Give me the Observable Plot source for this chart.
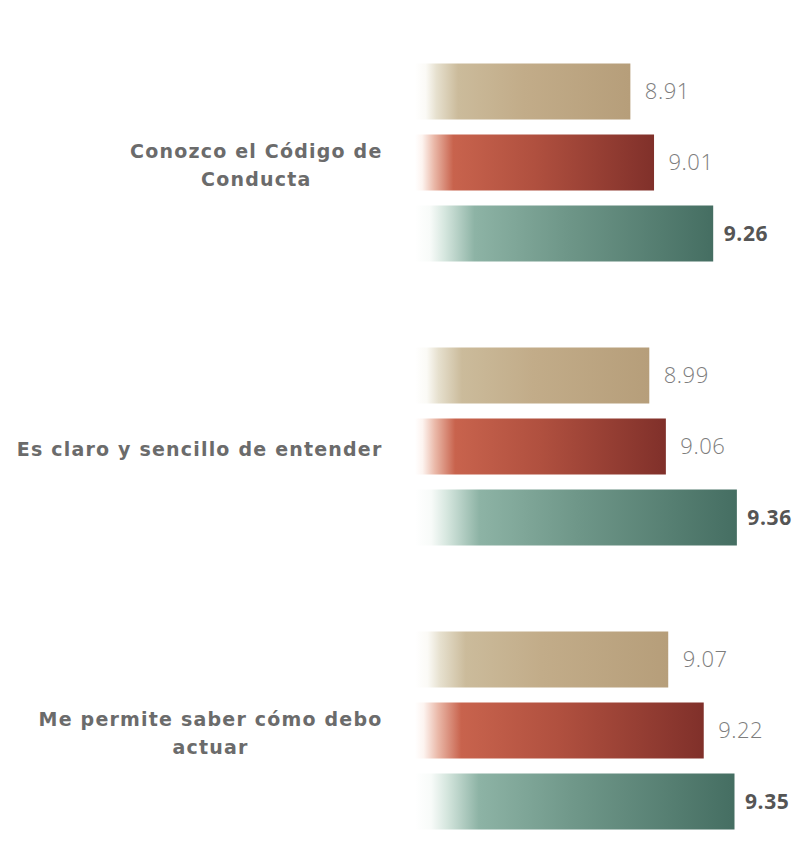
<!DOCTYPE html>
<html><head><meta charset="utf-8">
<script src="https://cdn.jsdelivr.net/npm/d3@7"></script>
<script src="https://cdn.jsdelivr.net/npm/@observablehq/plot@0.6"></script>
<style>
body{margin:0;background:#fff}
.glabel text{letter-spacing:1.2px}
.vlight text{letter-spacing:0.5px}
.vbold text{letter-spacing:0.6px}
</style>
</head><body><div id="chart"></div>
<script>
const groups = ["Conozco el Código de\nConducta", "Es claro y sencillo de entender", "Me permite saber cómo debo\nactuar"];
const series = ["Serie 1", "Serie 2", "Serie 3"];
const serie1Values = [8.91, 8.99, 9.07];
const serie2Values = [9.01, 9.06, 9.22];
const serie3Values = [9.26, 9.36, 9.35];
const xMin = 8;

const seriesValues = [serie1Values, serie2Values, serie3Values];
const data = groups.flatMap((g, i) => series.map((s, j) => ({group: g, series: s, value: seriesValues[j][i]})));
const lastSeries = series[series.length - 1];

const font = "'DejaVu Sans', sans-serif";
const numFont = "'Open Sans', sans-serif";

const svg = Plot.plot({
  width: 795, height: 861,
  marginLeft: 415, marginRight: 25, marginTop: 55.5, marginBottom: 24.5,
  style: {background: "#fff"},
  x: {domain: [8, 9.5], axis: null},
  fy: {domain: groups, axis: null, paddingInner: 0.25, paddingOuter: 0},
  y: {domain: series, axis: null, paddingInner: 0.21, paddingOuter: 0.105},
  color: {domain: series, range: ["url(#gTan)", "url(#gRed)", "url(#gTeal)"]},
  marks: [
    Plot.barX(data, {x1: xMin, x2: "value", y: "series", fy: "group", fill: "series"}),
    Plot.text(data.filter(d => d.series !== lastSeries), {
      x: "value", y: "series", fy: "group", text: d => d.value.toFixed(2),
      dx: 14, textAnchor: "start", fontSize: 22, fontWeight: 300, fill: "#7d7d7d", fontFamily: numFont,
      className: "vlight"
    }),
    Plot.text(data.filter(d => d.series === lastSeries), {
      x: "value", y: "series", fy: "group", text: d => d.value.toFixed(2),
      dx: 10, textAnchor: "start", fontSize: 21, fontWeight: 700, fill: "#555", fontFamily: numFont,
      className: "vbold"
    }),
    Plot.text(groups, {
      fy: d => d, text: d => d, frameAnchor: "left", dx: -33, textAnchor: "end",
      lineAnchor: "middle", lineHeight: 1.47, fontSize: 19, fontWeight: 700, fill: "#6b6b6b",
      fontFamily: font, className: "glabel"
    })
  ]
});

const defs = d3.select(svg).insert("defs", ":first-child");
const grads = [
  ["gTan", [[0, "#ffffff"], [0.05, "#fbfaf6"], [0.1, "#e6e0ce"], [0.2, "#cbbb9b"], [0.5, "#c2ac89"], [1, "#b69e7a"]]],
  ["gRed", [[0, "#ffffff"], [0.03, "#fdf4f0"], [0.08, "#eab8a8"], [0.16, "#c8634d"], [0.5, "#b0503f"], [1, "#80302a"]]],
  ["gTeal", [[0, "#ffffff"], [0.05, "#f8fbf9"], [0.1, "#d5e6de"], [0.2, "#8db3a5"], [0.5, "#6f9789"], [1, "#456e62"]]]
];
for (const [id, stops] of grads) {
  const g = defs.append("linearGradient").attr("id", id).attr("x1", 0).attr("x2", 1).attr("y1", 0).attr("y2", 0);
  for (const [o, c] of stops) g.append("stop").attr("offset", o).attr("stop-color", c);
}

document.getElementById("chart").appendChild(svg);

// center multi-line group labels relative to each other (right edge of longest line kept)
svg.querySelectorAll(".glabel text").forEach(t => {
  const tspans = t.querySelectorAll("tspan");
  if (tspans.length < 2) return;
  const w = t.getBBox().width;
  t.setAttribute("text-anchor", "middle");
  tspans.forEach(ts => {
    const x0 = +(ts.getAttribute("x") || 0);
    ts.setAttribute("x", x0 - w / 2);
  });
});
</script>
</body></html>
